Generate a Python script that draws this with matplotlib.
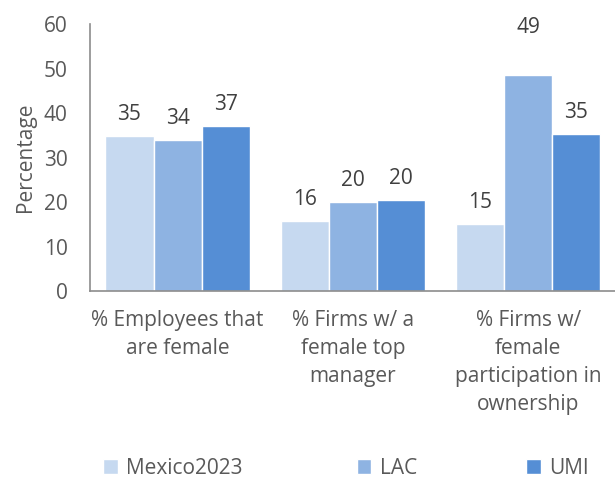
import numpy as np
import matplotlib.pyplot as plt

plt.rcParams['font.family'] = ['Open Sans', 'DejaVu Sans']

categories = ["% Employees that\nare female",
              "% Firms w/ a\nfemale top\nmanager",
              "% Firms w/\nfemale\nparticipation in\nownership"]
series = ["Mexico2023", "LAC", "UMI"]
mexico = [34.8, 15.8, 15.1]
lac = [33.9, 19.9, 48.5]
umi = [37.1, 20.4, 35.3]
mexico_lbl = ["35", "16", "15"]
lac_lbl = ["34", "20", "49"]
umi_lbl = ["37", "20", "35"]

colors = ["#c6d9f0", "#8eb3e2", "#558ed5"]
txt = "#595959"
fs = 15

fig = plt.figure(figsize=(6.15, 4.83), dpi=100)
ax = fig.add_axes([0.1463, 0.3975, 0.855, 0.5528])

x = np.arange(len(categories))
w = 0.275
bars = []
for i, (vals, lbls) in enumerate(zip([mexico, lac, umi], [mexico_lbl, lac_lbl, umi_lbl])):
    pos = x + (i - 1) * w
    b = ax.bar(pos, vals, w, color=colors[i], edgecolor="white", linewidth=1, label=series[i])
    bars.append(b)
    for p, v, l in zip(pos, vals, lbls):
        # the tallest label sits higher in the original, clear of the bar
        off = 27 if v > 45 else 8
        ax.annotate(l, (p, v), xytext=(0, off), textcoords="offset points",
                    ha="center", va="bottom", fontsize=fs, color="#404040")

ax.set_xlim(-0.5, 2.5)
ax.set_ylim(0, 60)
ax.set_yticks(range(0, 61, 10))
ax.set_xticks(x)
ax.set_xticklabels(categories, linespacing=1.42)
ax.tick_params(axis="both", length=0, colors=txt, labelsize=fs)
ax.tick_params(axis="x", pad=14)
ax.tick_params(axis="y", pad=16)
for s in ["top", "right"]:
    ax.spines[s].set_visible(False)
for s in ["left", "bottom"]:
    ax.spines[s].set_color("#8c8c8c")
    ax.spines[s].set_linewidth(1.2)
ax.set_ylabel("Percentage", fontsize=fs, color=txt, labelpad=6)

# legend entries spread along the bottom like in the original
leg_x = [0.168, 0.580, 0.856]
for b, name, lx in zip(bars, series, leg_x):
    leg = fig.legend([b], [name], loc="center left", bbox_to_anchor=(lx, 0.03),
                     frameon=False, fontsize=fs, handlelength=0.7, handleheight=0.7,
                     handletextpad=0.4, borderpad=0, borderaxespad=0)
    for t in leg.get_texts():
        t.set_color(txt)

fig.savefig("out.png", dpi=100)
